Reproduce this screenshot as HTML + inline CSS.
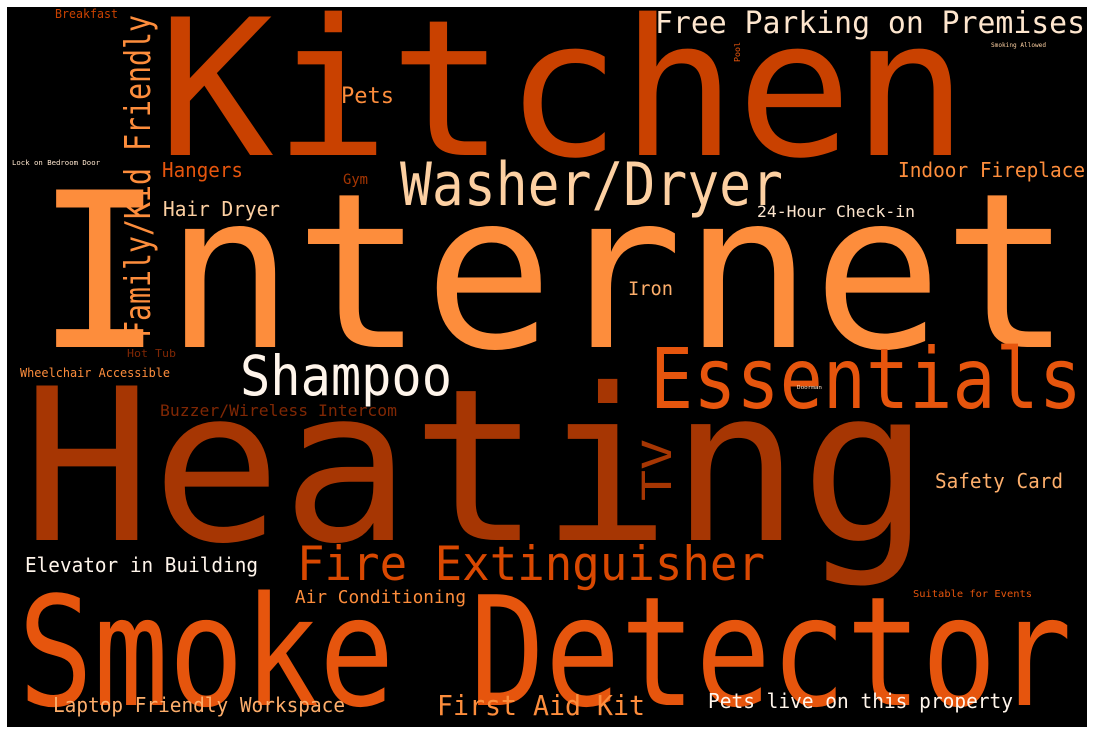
<!DOCTYPE html>
<html><head><meta charset="utf-8"><style>
html,body{margin:0;padding:0;background:#fff;}
svg{display:block;}
text{font-family:"DejaVu Sans Mono","Liberation Mono",monospace;}
</style></head><body>
<svg width="1094" height="734" viewBox="0 0 1094 734">
<rect x="7" y="7" width="1080" height="720" fill="#000"/>
<g id="words"></g>
</svg>
<script>
const words = ["Kitchen","Internet","Heating","Smoke Detector","Washer/Dryer","Essentials","Shampoo","Fire Extinguisher","Free Parking on Premises","Family/Kid Friendly","TV","Pets","Hangers","Hair Dryer","Gym","Indoor Fireplace","24-Hour Check-in","Iron","Hot Tub","Wheelchair Accessible","Buzzer/Wireless Intercom","Safety Card","Elevator in Building","Air Conditioning","Suitable for Events","Laptop Friendly Workspace","First Aid Kit","Pets live on this property","Breakfast","Lock on Bedroom Door","Pool","Smoking Allowed","Doorman"];
const sizes = [190,216,212,152,60,84,55,47,30,36,40,22,20,20,14,20,16,19,11,12,16,20,20,18,10,20,28,20,12,7,8,6,5];
const colors = ["#c94100","#fd8d3c","#a63603","#e6550d","#fdd0a2","#e6550d","#fff5eb","#d94801","#fee6ce","#fd8d3c","#a63603","#fd8d3c","#e6550d","#fdd0a2","#a63603","#fd8d3c","#fee6ce","#fdae6b","#7f2704","#fd8d3c","#7f2704","#fdae6b","#fff5eb","#fd8d3c","#e6550d","#fdae6b","#fd8d3c","#fff5eb","#c94100","#fee6ce","#e6550d","#fdd0a2","#fee6ce"];
const layout = [[158,155,810,0],[35,347,1037,0],[22,540,908,0],[18,705,1054,0],[400,205,383,0],[650,408,432,0],[240,395,212,0],[297,580,468,0],[655,33,430,0],[150,338,323,1],[671,501,62,1],[341,103,53,0],[162,177,81,0],[163,216,117,0],[343,184,25,0],[898,177,187,0],[757,217,158,0],[628,295,45,0],[127,357,49,0],[20,377,150,0],[160,416,237,0],[935,488,128,0],[25,572,233,0],[295,603,171,0],[913,597,119,0],[53,712,292,0],[437,715,208,0],[708,708,305,0],[55,18,63,0],[12,165,88,0],[740,62,20,1],[991,47,55,0],[797,389,25,0]];
const g = document.getElementById('words');
const NS = "http://www.w3.org/2000/svg";
words.forEach((w,i)=>{
  const [x,y,len,rot] = layout[i];
  const t = document.createElementNS(NS,'text');
  t.setAttribute('x',x); t.setAttribute('y',y);
  t.setAttribute('font-size',sizes[i]);
  t.setAttribute('fill',colors[i]);
  t.setAttribute('textLength',len);
  t.setAttribute('lengthAdjust','spacingAndGlyphs');
  if(rot) t.setAttribute('transform','rotate(-90 '+x+' '+y+')');
  
  
  t.textContent = w;
  g.appendChild(t);
});
</script>
</body></html>
